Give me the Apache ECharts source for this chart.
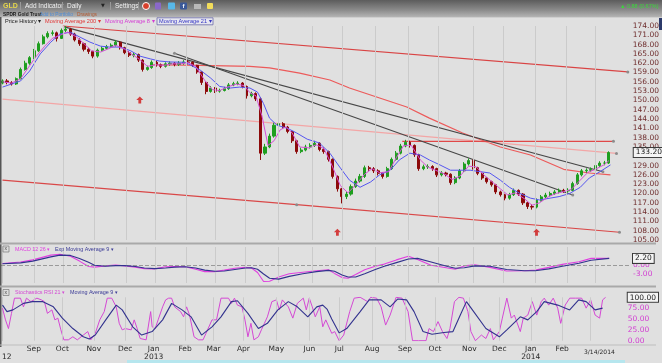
<!DOCTYPE html>
<html><head><meta charset="utf-8">
<script src="https://cdn.jsdelivr.net/npm/echarts@6/dist/echarts.min.js"></script>
<style>html,body{margin:0;padding:0;background:#e0e0e0;overflow:hidden}#c{width:662px;height:363px}</style>
</head><body><div id="c"></div>
<script>
const FONT = '"DejaVu Sans", Verdana, sans-serif';
const SANS = '"Liberation Sans", Arial, sans-serif';

// trading-day index of each month start (first label Sep 2012)
const monthIdx = [21,40,61,82,101,122,141,161,183,205,225,247,269,289,312,332,353,374,393];
const monthNames = ['Sep','Oct','Nov','Dec','Jan\n2013','Feb','Mar','Apr','May','Jun','Jul','Aug','Sep','Oct','Nov','Dec','Jan\n2014','Feb',''];

// one candle every 3 trading days: [open, close, low, high]
const candleStep = 3;
const ohlc = [
[155.6,156.3,155.2,156.8],[156.3,155.8,155.2,156.9],[155.8,155.3,154.8,156.2],[155.3,157.0,155.0,157.4],
[157.0,160.0,156.8,160.6],[160.0,162.0,159.6,162.8],[162.0,163.8,161.5,164.3],[163.8,166.0,163.4,166.6],
[166.0,168.3,165.6,169.0],[168.3,170.5,168.0,171.2],[170.5,171.6,170.0,172.3],[171.6,171.8,170.9,172.6],
[171.8,170.0,169.0,172.2],[170.0,172.6,169.8,173.2],[172.6,173.0,172.0,174.0],[173.0,171.4,170.8,173.4],
[171.4,169.5,169.0,171.8],[169.5,168.3,167.6,170.0],[168.3,166.5,165.8,168.6],[166.5,165.8,165.0,167.0],
[165.8,164.3,163.6,166.0],[164.3,166.2,163.8,166.7],[166.2,166.8,165.8,167.4],[166.8,167.3,166.3,167.9],
[167.3,167.8,166.9,168.4],[167.8,168.8,167.4,169.5],[168.8,167.0,166.4,169.1],[167.0,165.4,164.9,167.3],
[165.4,164.6,164.0,165.9],[164.6,164.8,163.9,165.4],[164.8,163.0,162.4,165.1],[163.0,160.0,159.3,163.3],
[160.0,160.6,159.6,161.2],[160.6,162.3,160.2,162.9],[162.3,161.5,160.9,162.8],[161.5,161.0,160.4,161.9],
[161.0,161.8,160.6,162.3],[161.8,162.0,161.2,162.6],[162.0,161.6,161.0,162.4],[161.6,162.0,161.1,162.7],
[162.0,162.4,161.5,163.0],[162.4,162.3,161.6,163.0],[162.3,161.3,160.8,162.6],[161.3,159.2,158.6,161.5],
[159.2,155.8,155.0,159.4],[155.8,152.9,152.0,156.0],[152.9,154.0,152.5,154.6],[154.0,153.0,152.4,154.3],
[153.0,153.2,152.5,153.8],[153.2,153.8,152.9,154.4],[153.8,155.0,153.4,155.6],[155.0,155.4,154.6,156.0],
[155.4,155.6,154.9,156.2],[155.6,154.5,153.9,155.9],[154.5,151.5,150.6,154.8],[151.5,152.2,151.0,152.8],
[152.2,150.5,149.8,152.6],[150.5,133.0,130.8,151.0],[133.0,135.0,132.4,136.0],[135.0,138.5,134.6,139.3],
[138.5,142.0,138.0,142.8],[142.0,142.5,141.4,143.3],[142.5,141.4,140.8,143.0],[141.4,140.0,139.4,141.8],
[140.0,137.0,136.3,140.3],[137.0,133.5,132.8,137.3],[133.5,134.0,133.0,134.8],[134.0,135.0,133.6,135.7],
[135.0,135.5,134.5,136.2],[135.5,136.2,135.0,137.0],[136.2,134.2,133.6,136.5],[134.2,133.5,132.8,134.8],
[133.5,131.0,130.3,133.8],[131.0,125.5,124.8,131.3],[125.5,121.5,120.6,125.8],[121.5,119.0,116.8,121.8],
[119.0,119.8,118.2,120.6],[119.8,122.2,119.3,122.9],[122.2,124.0,121.8,124.8],[124.0,125.5,123.5,126.3],
[125.5,128.3,125.0,129.0],[128.3,128.0,127.3,128.9],[128.0,127.3,126.6,128.5],[127.3,126.5,125.8,127.8],
[126.5,125.5,124.8,126.9],[125.5,128.0,125.1,128.6],[128.0,131.0,127.6,131.6],[131.0,133.0,130.6,133.7],
[133.0,135.3,132.6,136.0],[135.3,136.5,134.9,137.3],[136.5,135.5,134.8,137.0],[135.5,132.5,131.8,135.8],
[132.5,128.0,127.3,132.8],[128.0,128.6,127.5,129.3],[128.6,128.7,127.9,129.4],[128.7,128.0,127.3,129.1],
[128.0,126.0,125.3,128.3],[126.0,126.6,125.5,127.2],[126.6,126.2,125.5,127.0],[126.2,123.5,122.8,126.5],
[123.5,125.0,123.0,125.6],[125.0,127.3,124.6,127.9],[127.3,129.5,126.9,130.1],[129.5,130.6,129.0,131.3],
[130.6,128.3,127.7,130.9],[128.3,126.5,125.9,128.6],[126.5,125.0,124.4,126.8],[125.0,123.8,123.2,125.3],
[123.8,122.8,122.2,124.1],[122.8,120.5,119.8,123.1],[120.5,119.6,119.0,120.9],[119.6,118.5,117.8,119.9],
[118.5,119.6,118.0,120.2],[119.6,121.0,119.2,121.6],[121.0,119.8,119.2,121.3],[119.8,117.0,116.3,120.1],
[117.0,115.8,115.0,117.3],[115.8,115.6,114.8,116.5],[115.6,117.8,115.2,118.4],[117.8,118.9,117.4,119.5],
[118.9,119.5,118.4,120.2],[119.5,120.0,119.0,120.6],[120.0,120.5,119.5,121.1],[120.5,121.0,120.0,121.6],
[121.0,120.8,120.2,121.5],[120.8,121.0,120.3,121.7],[121.0,123.2,120.7,123.8],[123.2,126.0,122.8,126.6],
[126.0,127.3,125.5,127.9],[127.3,127.5,126.7,128.1],[127.5,127.7,126.9,128.4],[127.7,129.0,127.2,129.6],
[129.0,129.8,128.5,130.4],[129.8,129.8,129.1,130.5],[129.8,133.2,129.5,133.6]
];
const lastClose = 133.20;

// moving averages: [trading-day index, value]
const ma8 = [[0,156],[6,155.6],[12,157],[17,160.5],[22,164],[28,167.5],[33,170],[38,171],[43,172],[49,170.5],[54,168.3],[59,166],[65,165.6],[70,166.6],[75,167.8],[81,166.5],[86,164.8],[91,163.2],[96,161],[102,161.5],[107,161.3],[112,161.8],[118,161.8],[123,162.2],[128,161],[134,156.5],[139,153.5],[144,153.2],[149,154.3],[155,155.3],[160,154.8],[164,152.5],[168,151.5],[172,145],[176,135.5],[180,137],[184,140.5],[188,141.5],[192,139.5],[197,135],[203,134.7],[208,135.7],[213,134.5],[218,129.5],[224,122.5],[229,120.2],[234,122.7],[240,126.2],[245,128],[250,126.7],[256,127],[261,131.5],[266,135.5],[271,135.5],[277,130.8],[282,128.5],[287,127.5],[293,126.3],[298,124.5],[303,125.5],[309,128.8],[314,128.6],[319,126],[324,124],[330,121.5],[335,119.5],[340,120.2],[346,118.3],[351,116.2],[356,117],[362,119],[367,120],[372,120.6],[377,121.3],[383,124.3],[388,126.8],[393,127.8],[399,129.3],[402,130.6]];
const ma21 = [[0,154.3],[12,156.3],[18,159.5],[25,165],[32,168.8],[38,171.4],[45,172],[51,170.5],[58,168.8],[65,167.5],[71,167.2],[78,167.2],[85,166],[91,164.3],[98,163.4],[104,162.7],[111,162.4],[121,162.3],[131,159.8],[138,157.2],[144,154.5],[151,154],[157,154.3],[164,154],[169,152.7],[173,149],[177,144.3],[182,142],[189,141],[195,139.5],[202,137.5],[210,136.3],[217,133],[224,128.2],[230,124.3],[237,122],[244,123.7],[250,126],[257,127.5],[263,130.8],[270,133],[277,132.4],[283,130.8],[290,129.2],[297,127.5],[310,127.5],[323,126.6],[330,124.3],[336,122],[343,120],[350,118.5],[356,117.9],[363,118.5],[369,119],[376,120],[383,122],[389,125],[396,127],[403,129.2]];
const ma200 = [[98,161.5],[131,161.3],[164,161],[177,160.5],[197,158.8],[217,156.6],[230,154],[250,150.8],[268,147.9],[283,144.3],[305,139.5],[330,135],[350,132.4],[372,127.8],[389,126.6],[403,126]];

// drawn trend lines: [index, price]
const channelTop = [[40,174.0],[414.5,159.2]];
const channelMid = [[0,150.4],[407,132.9]];
const channelLow = [[0,124.3],[195,116.4],[409,107.5]];
const resistance = [[265,136.8],[405,136.8]];
const downTrend1 = [[41,173.7],[398,127.0]];
const downTrend2 = [[114,165.2],[378,119.5]];
const arrowsUp = [[91,150.1],[222,107.5],[354,107.5]];

// MACD 12 26 and its 9 EMA
const macd = [[0,0.5],[12,1.0],[20,1.7],[32,3.3],[38,3.6],[45,2.9],[51,1.3],[57,-0.5],[61,-0.7],[68,-0.3],[75,0.0],[81,-0.3],[88,-0.7],[94,-1.2],[101,-1.3],[108,-0.6],[114,-0.5],[121,-0.6],[128,-1.4],[134,-2.2],[141,-2.2],[147,-1.7],[154,-1.1],[161,-0.8],[165,-1.0],[169,-2.5],[173,-5.5],[177,-5.4],[183,-4.0],[190,-2.9],[199,-2.4],[208,-1.9],[216,-1.6],[220,-2.8],[225,-4.2],[229,-4.4],[234,-3.2],[240,-1.6],[247,-0.4],[253,0.3],[261,1.7],[269,2.9],[275,1.8],[284,-0.1],[295,-1.0],[300,-1.4],[306,-0.3],[313,0.1],[323,-0.8],[334,-2.0],[346,-1.9],[353,-1.7],[362,-0.8],[371,0.2],[382,1.1],[390,2.2],[402,2.2]];
const macdSignal = [[0,0.4],[12,0.7],[20,1.3],[32,2.7],[38,3.3],[45,3.2],[51,2.2],[57,0.9],[61,-0.1],[68,-0.4],[75,-0.2],[81,-0.2],[88,-0.5],[94,-1.0],[101,-1.2],[108,-1.0],[114,-0.7],[121,-0.6],[128,-1.0],[134,-1.7],[141,-2.1],[147,-2.0],[154,-1.5],[161,-1.0],[165,-0.9],[169,-1.4],[173,-3.0],[177,-4.4],[183,-4.7],[190,-3.8],[199,-2.9],[208,-2.2],[216,-1.8],[220,-2.1],[225,-3.3],[229,-4.0],[234,-4.0],[240,-2.9],[247,-1.5],[253,-0.4],[261,0.8],[269,2.0],[275,2.2],[284,1.0],[295,-0.5],[300,-1.1],[306,-0.9],[313,-0.3],[323,-0.4],[334,-1.5],[346,-1.9],[353,-1.9],[362,-1.3],[371,-0.4],[382,0.6],[390,1.6],[402,2.2]];
const lastMacd = 2.20;

// Stochastics RSI 21 and its 9 MA
const stochRsi = [[0,75],[2,48],[4,28],[6,63],[8,98],[12,98],[14,78],[16,98],[19,90],[23,98],[26,94],[28,90],[30,63],[33,71],[35,48],[37,52],[39,25],[41,2],[44,2],[47,9],[50,2],[54,13],[57,21],[59,2],[62,17],[65,48],[68,67],[70,98],[73,98],[76,78],[78,40],[80,25],[82,28],[86,25],[88,48],[90,28],[92,5],[96,2],[99,67],[100,32],[102,28],[104,48],[107,78],[109,94],[111,98],[113,98],[115,78],[119,67],[121,55],[123,78],[125,59],[128,9],[131,2],[134,2],[136,17],[140,48],[143,48],[146,98],[151,98],[153,86],[155,98],[157,82],[160,78],[162,48],[164,9],[166,40],[168,2],[171,9],[173,25],[175,40],[177,55],[180,90],[183,94],[185,71],[187,94],[191,78],[194,52],[197,86],[201,98],[203,71],[205,98],[207,78],[209,55],[212,78],[214,32],[216,48],[220,17],[222,21],[225,0],[228,13],[232,67],[235,98],[239,100],[244,90],[246,100],[250,98],[253,78],[256,36],[259,59],[263,100],[267,98],[271,67],[274,0],[278,0],[283,0],[285,28],[288,21],[291,44],[294,21],[297,5],[299,28],[302,90],[305,100],[308,98],[311,67],[313,21],[316,0],[320,13],[323,5],[326,28],[328,2],[332,21],[334,52],[337,98],[340,52],[342,59],[346,21],[348,52],[351,59],[354,90],[357,59],[360,90],[362,98],[365,82],[368,98],[371,75],[373,40],[376,82],[379,98],[383,98],[387,98],[390,75],[393,94],[396,59],[399,52],[401,94],[403,100]];
const stochMa9 = [[0,82],[3,67],[7,71],[14,86],[20,90],[27,90],[34,78],[40,52],[47,28],[54,9],[58,4],[62,13],[69,48],[76,82],[80,71],[87,32],[93,13],[100,21],[107,48],[113,86],[120,71],[126,55],[133,13],[140,32],[146,55],[153,90],[157,92],[164,63],[171,28],[177,40],[184,71],[191,90],[197,78],[204,55],[210,78],[214,82],[217,72],[220,50],[225,18],[230,28],[239,67],[245,94],[253,94],[259,78],[264,96],[270,94],[275,67],[281,21],[287,15],[295,19],[301,21],[306,60],[310,90],[314,71],[323,28],[332,9],[337,25],[346,55],[351,48],[357,67],[362,90],[371,82],[379,71],[385,94],[390,90],[396,71],[401,75]];

const priceTicks = {min:105, max:174, step:3};
const macdTicks = {min:-6, max:6, step:3, shown:[0,-3]};
const stochTicks = {min:0, max:100, step:25};

// ---------------------------------------------------------------
const chart = echarts.init(document.getElementById('c'), null, {renderer:'canvas'});
const XMIN = -1, XMAX = 415.8;
const labelMap = {};
monthIdx.forEach((v,i)=>{ labelMap[v] = monthNames[i]; });
const boxLabel = {fontFamily:FONT, fontSize:7.5, color:'#1a1a1a', backgroundColor:'#f4f4f4',
  borderColor:'#3a3a3a', borderWidth:1};
const hidden = 'rgba(0,0,0,0)';

function xAx(i, showLabels){
  return {type:'value', gridIndex:i, min:XMIN, max:XMAX,
    axisLine:{show:false}, axisTick:{show:false}, splitLine:{show:false},
    axisLabel: showLabels ? {show:true, customValues: monthIdx.slice(0,18), formatter:v=> labelMap[v] || '',
      fontFamily:FONT, fontSize:7.5, lineHeight:8.5, color:'#2a2a2a', margin:4} : {show:false}};
}
function monthLines(i){
  return {type:'line', xAxisIndex:i, yAxisIndex:i, data:[], z:1, silent:true,
    markLine:{silent:true, animation:false, symbol:['none','none'], label:{show:false},
      lineStyle:{color:'#cbcbcb', width:1, type:'solid'},
      data: monthIdx.map(v=>({xAxis:v}))}};
}
function trend(data, color, width, dots){
  return {type:'line', xAxisIndex:0, yAxisIndex:0, z:2, silent:true, clip:false,
    data: data.map((p,k)=>({value:p, symbol: dots.includes(k)?'circle':'none', symbolSize:3,
      itemStyle:{color:'#8c8c8c'}})),
    showSymbol:true, lineStyle:{color, width}};
}
function lineS(i, data, color, width, z){
  return {type:'line', xAxisIndex:i, yAxisIndex:i, data, symbol:'none', z: z||4, silent:true,
    lineStyle:{color, width}};
}

const candleData = ohlc.map((d,i)=>[i*candleStep, d[0], d[1], d[2], d[3]]);

const option = {
  animation:false,
  backgroundColor:'#e0e0e0',
  grid:[
    {left:1, right:32, top:26, height:214},
    {left:1, right:32, top:247, height:36},
    {left:1, right:32, top:297.3, height:43.4}
  ],
  xAxis:[xAx(0,false), xAx(1,false), xAx(2,true)],
  yAxis:[
    {type:'value', gridIndex:0, position:'right', min:priceTicks.min, max:priceTicks.max, interval:priceTicks.step,
      axisLine:{show:false}, axisTick:{show:false}, splitLine:{show:false},
      axisLabel:{margin:3, align:'left', formatter:v=>v.toFixed(2), fontFamily:FONT, fontSize:7.5, color:'#6e2c2c'}},
    {type:'value', gridIndex:1, position:'right', min:macdTicks.min, max:macdTicks.max, interval:macdTicks.step,
      axisLine:{show:true, lineStyle:{color:'#c6c6c6'}}, axisTick:{show:false}, splitLine:{show:false},
      axisLabel:{margin:3, align:'left', formatter:v=> macdTicks.shown.includes(v) ? v.toFixed(2) : '',
        fontFamily:FONT, fontSize:7.5, color:'#d23cd2'}},
    {type:'value', gridIndex:2, position:'right', min:stochTicks.min, max:stochTicks.max, interval:stochTicks.step,
      axisLine:{show:true, lineStyle:{color:'#c6c6c6'}}, axisTick:{show:false}, splitLine:{show:false},
      axisLabel:{margin:3, align:'left', fontFamily:FONT, fontSize:7.5, color:'#d23cd2',
        formatter:v=> v===100 ? '{b|100.00}' : v.toFixed(2),
        rich:{b:Object.assign({padding:[1,2,0,2]}, boxLabel)}}}
  ],
  series:[
    monthLines(0), monthLines(1), monthLines(2),
    {type:'line', xAxisIndex:0, yAxisIndex:0, data:ma200, symbol:'none', z:2, silent:true, lineStyle:{color:'#ec5a5a', width:1.2}},
    trend(channelTop, '#d94444', 1.2, [1]),
    trend(channelMid, '#f3a6a6', 1.2, [1]),
    trend(channelLow, '#d94848', 1.2, [1,2]),
    trend(resistance, '#e04848', 1.2, [1]),
    trend(downTrend1, '#474747', 1.2, [1]),
    trend(downTrend2, '#474747', 1.2, [0,1]),
    {type:'candlestick', xAxisIndex:0, yAxisIndex:0, z:3, silent:true, barWidth:2.6,
      encode:{x:0, y:[1,2,3,4]}, data:candleData,
      itemStyle:{color:'#1f9e1f', color0:'#8c0a0a', borderColor:'#1f9e1f', borderColor0:'#8c0a0a', borderWidth:1}},
    lineS(0, ma21, '#5656f0', 1),
    Object.assign(lineS(0, ma8, '#d64fd6', 1), {
      markLine:{silent:true, animation:false, symbol:['none','none'],
        data:[{yAxis:lastClose, lineStyle:{color:hidden, width:1},
          label:Object.assign({show:true, position:'end', distance:4, formatter:p=>Number(p.value).toFixed(2), padding:[1,1,0,2]}, boxLabel)}]}}),
    {type:'scatter', xAxisIndex:0, yAxisIndex:0, z:5, silent:true, data:arrowsUp,
      symbol:'path://M5,0 L10,5 L7,5 L7,10 L3,10 L3,5 L0,5 Z', symbolSize:[7,7], itemStyle:{color:'#d01414'}},
    Object.assign(lineS(1, macd, '#e040e0', 1.1), {
      markLine:{silent:true, animation:false, symbol:['none','none'],
        data:[
          {yAxis:0, lineStyle:{type:'dashed', color:'#9a9a9a', width:1}, label:{show:false}},
          {yAxis:lastMacd, lineStyle:{color:hidden, width:1},
            label:Object.assign({show:true, position:'end', distance:3, formatter:p=>Number(p.value).toFixed(2), padding:[1,2,0,2]}, boxLabel)}
        ]}}),
    lineS(1, macdSignal, '#32328e', 1.1, 5),
    lineS(2, stochRsi, '#d448d4', 1),
    lineS(2, stochMa9, '#32328e', 1.1, 5)
  ],
  graphic:[
    // toolbar
    {type:'rect', shape:{x:0,y:0,width:662,height:17}, z:10,
      style:{fill:new echarts.graphic.LinearGradient(0,0,0,1,[{offset:0,color:'#5c5c5c'},{offset:0.6,color:'#8c8c8c'},{offset:1,color:'#b4b4b4'}])}},
    {type:'rect', shape:{x:0,y:17,width:662,height:1}, z:10, style:{fill:'#cfcfcf'}},
    {type:'text', x:3, y:2.5, z:11, style:{text:'GLD', fill:'#e6d64a', font:'bold 7px '+SANS}},
    {type:'rect', shape:{x:20,y:2,width:1,height:8}, z:11, style:{fill:'#9a9a9a'}},
    {type:'text', x:25, y:2.5, z:11, style:{text:'Add Indicator', fill:'#f2f2f2', font:'6.5px '+SANS}},
    {type:'rect', shape:{x:62,y:2,width:1,height:8}, z:11, style:{fill:'#9a9a9a'}},
    {type:'text', x:67, y:2.5, z:11, style:{text:'Daily', fill:'#f2f2f2', font:'6.5px '+SANS}},
    {type:'text', x:101, y:3, z:11, style:{text:'▼', fill:'#222', font:'5px '+FONT}},
    {type:'rect', shape:{x:110,y:2,width:1,height:8}, z:11, style:{fill:'#9a9a9a'}},
    {type:'text', x:115, y:2.5, z:11, style:{text:'Settings', fill:'#f2f2f2', font:'6.5px '+SANS}},
    {type:'rect', shape:{x:138,y:2,width:1,height:8}, z:11, style:{fill:'#9a9a9a'}},
    {type:'circle', shape:{cx:146,cy:6,r:3.5}, z:11, style:{fill:'#d8402c', stroke:'#fff', lineWidth:1}},
    {type:'rect', shape:{x:155,y:2.5,width:6,height:7,r:1}, z:11, style:{fill:'#8a68c8'}},
    {type:'rect', shape:{x:168,y:2.5,width:7,height:7,r:1}, z:11, style:{fill:'#58b8e8'}},
    {type:'rect', shape:{x:180,y:2.5,width:7,height:7,r:1}, z:11, style:{fill:'#3b5998'}},
    {type:'text', x:182.5, y:3, z:12, style:{text:'f', fill:'#fff', font:'bold 6px '+SANS}},
    {type:'rect', shape:{x:194,y:4,width:7,height:5}, z:11, style:{fill:'#b8b8b8'}},
    {type:'rect', shape:{x:207,y:3,width:6,height:6,r:1}, z:11, style:{fill:'#f2dc5a'}},
    {type:'text', x:620, y:3, z:11, style:{text:'▲ 0.88 (0.67%)', fill:'#3ad83a', font:'5.5px '+SANS}},
    {type:'text', x:3, y:12, z:11, style:{text:'SPDR Gold Trust', fill:'#1c1c1c', font:'bold 4.8px '+SANS}},
    {type:'text', x:40, y:12, z:11, style:{text:'Add to Portfolio', fill:'#4a8ad6', font:'4.8px '+SANS}},
    {type:'text', x:77, y:12, z:11, style:{text:'Drawings', fill:'#b25a32', font:'4.8px '+SANS}},
    // legend of price panel
    {type:'text', x:5, y:18.5, z:11, style:{text:'Price History ▾', fill:'#222', font:'5.6px '+SANS}},
    {type:'text', x:45, y:18.5, z:11, style:{text:'Moving Average 200 ▾', fill:'#e03434', font:'5.6px '+SANS}},
    {type:'text', x:105, y:18.5, z:11, style:{text:'Moving Average 8 ▾', fill:'#d43ad4', font:'5.6px '+SANS}},
    {type:'rect', shape:{x:157,y:17.8,width:56,height:7}, z:10, style:{fill:'#e6e6ef', stroke:'#6a6aa8', lineWidth:0.8}},
    {type:'text', x:159, y:18.5, z:11, style:{text:'Moving Average 21 ▾', fill:'#3434c4', font:'5.6px '+SANS}},
    // panel frames
    {type:'rect', shape:{x:0,y:17,width:1.5,height:330}, z:10, style:{fill:'#555'}},
    {type:'rect', shape:{x:0,y:242.5,width:656,height:2}, z:10, style:{fill:'#a9a9a9'}},
    {type:'rect', shape:{x:0,y:285.5,width:656,height:2}, z:10, style:{fill:'#a9a9a9'}},
    {type:'rect', shape:{x:0,y:344.5,width:656,height:1}, z:10, style:{fill:'#bdbdbd'}},
    {type:'rect', shape:{x:3,y:246,width:6,height:6}, z:11, style:{fill:'#dcdcdc', stroke:'#7a7a7a', lineWidth:0.7}},
    {type:'text', x:4.4, y:246.3, z:12, style:{text:'x', fill:'#444', font:'5px '+SANS}},
    {type:'text', x:15, y:247, z:11, style:{text:'MACD 12 26 ▾', fill:'#e040e0', font:'5.4px '+SANS}},
    {type:'text', x:55, y:247, z:11, style:{text:'Exp Moving Average 9 ▾', fill:'#3a3a96', font:'5.4px '+SANS}},
    {type:'rect', shape:{x:3,y:289.5,width:6,height:6}, z:11, style:{fill:'#dcdcdc', stroke:'#7a7a7a', lineWidth:0.7}},
    {type:'text', x:4.4, y:289.8, z:12, style:{text:'x', fill:'#444', font:'5px '+SANS}},
    {type:'text', x:15, y:290.3, z:11, style:{text:'Stochastics RSI 21 ▾', fill:'#d448d4', font:'5.4px '+SANS}},
    {type:'text', x:70, y:290.3, z:11, style:{text:'Moving Average 9 ▾', fill:'#3a3a96', font:'5.4px '+SANS}},
    // bottom texts
    {type:'text', x:2, y:353, z:11, style:{text:'12', fill:'#2a2a2a', font:'7.5px '+FONT}},
    {type:'text', x:584, y:349.5, z:11, style:{text:'3/14/2014', fill:'#2a2a2a', font:'6px '+FONT}},
    {type:'rect', shape:{x:127,y:360,width:498,height:3}, z:10, style:{fill:'#b6e6ee'}},
    {type:'rect', shape:{x:659,y:18,width:3,height:12}, z:10, style:{fill:'#2c3a6a'}}
  ]
};
chart.setOption(option);
</script>
</body></html>
